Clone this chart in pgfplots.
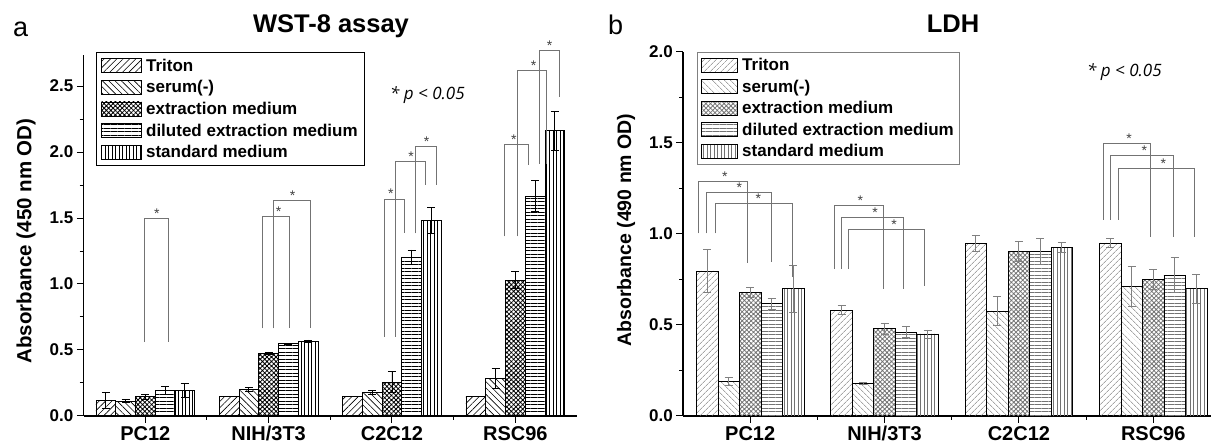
\documentclass[border=0pt]{standalone}
\usepackage{fontspec}
\setmainfont{Liberation Sans}
\newfontfamily\pfont{Open Sans}
\usepackage{pgfplots}
\pgfplotsset{compat=1.18}
\usepackage{pgfplotstable}
\usetikzlibrary{patterns.meta}

\pgfplotstableread{
x tri trie ser sere ext exte dil dile std stde
1 0.118 0.060 0.112 0.012 0.146 0.020 0.195 0.030 0.195 0.052
2 0.151 0.000 0.200 0.015 0.475 0.010 0.548 0.005 0.568 0.008
3 0.146 0.000 0.179 0.015 0.255 0.080 1.202 0.056 1.482 0.100
4 0.146 0.000 0.285 0.076 1.028 0.065 1.667 0.120 2.160 0.150
}\wst

\pgfplotstableread{
x tri trie ser sere ext exte dil dile std stde
1 0.797 0.120 0.190 0.020 0.679 0.027 0.617 0.030 0.699 0.130
2 0.582 0.024 0.179 0.003 0.480 0.031 0.460 0.030 0.451 0.022
3 0.949 0.045 0.577 0.080 0.905 0.056 0.903 0.072 0.927 0.028
4 0.951 0.025 0.712 0.108 0.748 0.055 0.774 0.096 0.699 0.078
}\ldh

\pgfplotsset{
  common/.style={
    scale only axis, clip=false, ybar,
    xmin=0.5,
    axis x line*=bottom, axis y line*=left,
    x axis line style={-}, y axis line style={-},
    axis line style={line width=1.2pt},
    xtick={1,2,3,4}, xticklabels={PC12,NIH/3T3,C2C12,RSC96},
    minor xtick={1.5,2.5,3.5},
    tick align=outside, major tick length=6.7pt, minor tick length=4pt,
    every tick/.style={black, line width=1pt},
    /pgf/number format/assume math mode=true,
    yticklabel style={font=\fontsize{17}{17}\selectfont\bfseries,
      /pgf/number format/fixed, /pgf/number format/fixed zerofill,
      /pgf/number format/precision=1},
    xticklabel style={font=\fontsize{20}{20}\selectfont\bfseries},
    error bars/y dir=both, error bars/y explicit,
    legend cell align=left,
    bar width=0.16,
  },
}

\begin{document}
\begin{tikzpicture}
\path[use as bounding box] (0pt,0pt) rectangle (1211pt,443pt);

% ---------------- panel a ----------------
\begin{axis}[common,
  at={(83.6pt,27pt)}, anchor=south west,
  width=493.4pt, height=361pt,
  xmax=4.5, ymin=0, ymax=2.735,
  ytick={0,0.5,1,1.5,2,2.5},
  minor ytick={0.25,0.75,1.25,1.75,2.25},
  ylabel={Absorbance (450 nm OD)},
  ylabel style={font=\fontsize{20.5}{20.5}\selectfont\bfseries,
    at={(rel axis cs:-0.1167,0.485)}, anchor=center},
  error bars/error bar style={black, line width=0.8pt},
  error bars/error mark options={rotate=90, mark size=4pt, line width=0.8pt, black},
  legend image code/.code={\draw[#1] (0pt,-7pt) rectangle (40pt,7pt);},
  legend style={at={(rel axis cs:0.025,1.008)}, anchor=north west,
    draw=black, line width=0.8pt, fill=white,
    inner xsep=5pt, inner ysep=3.5pt, row sep=2.7pt, column sep=2pt,
    font=\fontsize{17}{17}\selectfont\bfseries,
    nodes={inner sep=2pt, text height=13pt, text depth=2pt}},
]
\addplot[draw=black, line width=0.8pt, bar shift=-0.32, pattern color=black,
  pattern={Lines[angle=45,distance=4.5pt,line width=0.6pt]}]
  table[x=x, y=tri, y error=trie] {\wst};
\addlegendentry{Triton}
\addplot[draw=black, line width=0.8pt, bar shift=-0.16, pattern color=black,
  pattern={Lines[angle=-45,distance=4.5pt,line width=0.6pt]}]
  table[x=x, y=ser, y error=sere] {\wst};
\addlegendentry{serum(-)}
\addplot[draw=black, line width=0.8pt, bar shift=0, pattern color=black,
  pattern={Hatch[angle=45,distance=3.2pt,line width=0.8pt]}]
  table[x=x, y=ext, y error=exte] {\wst};
\addlegendentry{extraction medium}
\addplot[draw=black, line width=0.8pt, bar shift=0.16, pattern color=black,
  pattern={Lines[angle=0,distance=3.5pt,line width=0.6pt]}]
  table[x=x, y=dil, y error=dile] {\wst};
\addlegendentry{diluted extraction medium}
\addplot[draw=black, line width=0.8pt, bar shift=0.32, pattern color=black,
  pattern={Lines[angle=90,distance=3.5pt,line width=0.6pt]}]
  table[x=x, y=std, y error=stde] {\wst};
\addlegendentry{standard medium}

\begin{scope}[black!55, line width=0.8pt]
\draw (axis cs:0.991,0.56) -- (axis cs:0.991,1.5) -- (axis cs:1.186,1.5) -- (axis cs:1.186,0.56);
\draw (axis cs:1.949,0.664) -- (axis cs:1.949,1.51) -- (axis cs:2.170,1.51) -- (axis cs:2.170,0.664);
\draw (axis cs:2.036,0.664) -- (axis cs:2.036,1.634) -- (axis cs:2.340,1.634) -- (axis cs:2.340,0.664);
\draw (axis cs:2.936,0.60) -- (axis cs:2.936,1.644) -- (axis cs:3.100,1.644) -- (axis cs:3.100,1.384);
\draw (axis cs:3.026,0.60) -- (axis cs:3.026,1.927) -- (axis cs:3.268,1.927) -- (axis cs:3.268,1.75);
\draw (axis cs:3.19,1.384) -- (axis cs:3.19,2.045) -- (axis cs:3.361,2.045) -- (axis cs:3.361,1.75);
\draw (axis cs:3.91,1.36) -- (axis cs:3.91,2.058) -- (axis cs:4.109,2.058) -- (axis cs:4.109,1.90);
\draw (axis cs:4.019,1.36) -- (axis cs:4.019,2.62) -- (axis cs:4.249,2.62) -- (axis cs:4.249,1.91);
\draw (axis cs:4.196,1.91) -- (axis cs:4.196,2.77) -- (axis cs:4.357,2.77) -- (axis cs:4.357,2.42);
\end{scope}
\begin{scope}[every node/.style={font=\fontsize{14}{14}\selectfont, text=black!75, anchor=base, inner sep=0pt}]
\node at (axis cs:1.093,1.5) {*};
\node at (axis cs:2.08,1.51) {*};
\node at (axis cs:2.195,1.634) {*};
\node at (axis cs:2.99,1.644) {*};
\node at (axis cs:3.156,1.927) {*};
\node at (axis cs:3.28,2.045) {*};
\node at (axis cs:3.988,2.058) {*};
\node at (axis cs:4.149,2.62) {*};
\node at (axis cs:4.278,2.77) {*};
\end{scope}
\end{axis}

% ---------------- panel b ----------------
\begin{axis}[common,
  at={(683pt,27pt)}, anchor=south west,
  width=528pt, height=364pt,
  xmax=4.43, ymin=0, ymax=2.0,
  ytick={0,0.5,1,1.5,2},
  minor ytick={0.25,0.75,1.25,1.75},
  ylabel={Absorbance (490 nm OD)},
  ylabel style={font=\fontsize{19.5}{19.5}\selectfont\bfseries,
    at={(rel axis cs:-0.108,0.511)}, anchor=center},
  error bars/error bar style={black!50, line width=0.8pt},
  error bars/error mark options={rotate=90, mark size=4pt, line width=0.8pt, black!50},
  legend image code/.code={\draw[#1] (0pt,-7pt) rectangle (36pt,7pt);},
  legend style={at={(rel axis cs:0.0265,1.0)}, anchor=north west,
    draw=black!50, line width=0.8pt, fill=white,
    inner xsep=4pt, inner ysep=3.5pt, row sep=2.5pt, column sep=2pt,
    font=\fontsize{17}{17}\selectfont\bfseries,
    nodes={inner sep=2pt, text height=13pt, text depth=2pt}},
]
\addplot[draw=black, line width=0.8pt, bar shift=-0.32, pattern color=black!55,
  pattern={Lines[angle=45,distance=4pt,line width=0.6pt]}]
  table[x=x, y=tri, y error=trie] {\ldh};
\addlegendentry{Triton}
\addplot[draw=black, line width=0.8pt, bar shift=-0.16, pattern color=black!55,
  pattern={Lines[angle=-45,distance=4pt,line width=0.6pt]}]
  table[x=x, y=ser, y error=sere] {\ldh};
\addlegendentry{serum(-)}
\addplot[draw=black, line width=0.8pt, bar shift=0, pattern color=black!55,
  pattern={Hatch[angle=45,distance=3.2pt,line width=0.8pt]}]
  table[x=x, y=ext, y error=exte] {\ldh};
\addlegendentry{extraction medium}
\addplot[draw=black, line width=0.8pt, bar shift=0.16, pattern color=black!55,
  pattern={Lines[angle=0,distance=3.5pt,line width=0.6pt]}]
  table[x=x, y=dil, y error=dile] {\ldh};
\addlegendentry{diluted extraction medium}
\addplot[draw=black, line width=0.8pt, bar shift=0.32, pattern color=black!55,
  pattern={Lines[angle=90,distance=3.5pt,line width=0.6pt]}]
  table[x=x, y=std, y error=stde] {\ldh};
\addlegendentry{standard medium}

\begin{scope}[black!55, line width=0.8pt]
\draw (axis cs:0.614,1.004) -- (axis cs:0.614,1.291) -- (axis cs:0.983,1.291) -- (axis cs:0.983,0.839);
\draw (axis cs:0.675,1.004) -- (axis cs:0.675,1.227) -- (axis cs:1.159,1.227) -- (axis cs:1.159,0.848);
\draw (axis cs:0.739,1.004) -- (axis cs:0.739,1.169) -- (axis cs:1.313,1.169) -- (axis cs:1.313,0.762);
\draw (axis cs:1.629,0.807) -- (axis cs:1.629,1.156) -- (axis cs:1.991,1.156) -- (axis cs:1.991,0.70);
\draw (axis cs:1.681,0.807) -- (axis cs:1.681,1.092) -- (axis cs:2.139,1.092) -- (axis cs:2.139,0.70);
\draw (axis cs:1.733,0.807) -- (axis cs:1.733,1.026) -- (axis cs:2.299,1.026) -- (axis cs:2.299,0.716);
\draw (axis cs:3.629,1.077) -- (axis cs:3.629,1.498) -- (axis cs:3.980,1.498) -- (axis cs:3.980,0.985);
\draw (axis cs:3.681,1.077) -- (axis cs:3.681,1.432) -- (axis cs:4.151,1.432) -- (axis cs:4.151,0.985);
\draw (axis cs:3.739,1.077) -- (axis cs:3.739,1.359) -- (axis cs:4.310,1.359) -- (axis cs:4.310,0.985);
\end{scope}
\begin{scope}[every node/.style={font=\fontsize{14}{14}\selectfont, text=black!75, anchor=base, inner sep=0pt}]
\node at (axis cs:0.812,1.291) {*};
\node at (axis cs:0.919,1.227) {*};
\node at (axis cs:1.061,1.169) {*};
\node at (axis cs:1.82,1.156) {*};
\node at (axis cs:1.93,1.092) {*};
\node at (axis cs:2.072,1.026) {*};
\node at (axis cs:3.82,1.498) {*};
\node at (axis cs:3.933,1.432) {*};
\node at (axis cs:4.075,1.359) {*};
\end{scope}
\end{axis}

% titles and annotations
\node[font=\fontsize{25.5}{25.5}\selectfont\bfseries, anchor=base] at (331pt,410pt) {WST-8 assay};
\node[font=\fontsize{25.5}{25.5}\selectfont\bfseries, anchor=base] at (953pt,410pt) {LDH};
\node[font=\fontsize{27}{27}\selectfont, anchor=base west, inner sep=0pt] at (13pt,406pt) {a};
\node[font=\fontsize{27}{27}\selectfont, anchor=base west, inner sep=0pt] at (608pt,408pt) {b};
\node[font=\pfont\itshape\fontsize{17}{17}\selectfont, anchor=base west, inner sep=0pt] at (390pt,343pt) {* p < 0.05};
\node[font=\pfont\itshape\fontsize{17}{17}\selectfont, anchor=base west, inner sep=0pt] at (1087pt,366pt) {* p < 0.05};
\end{tikzpicture}
\end{document}
